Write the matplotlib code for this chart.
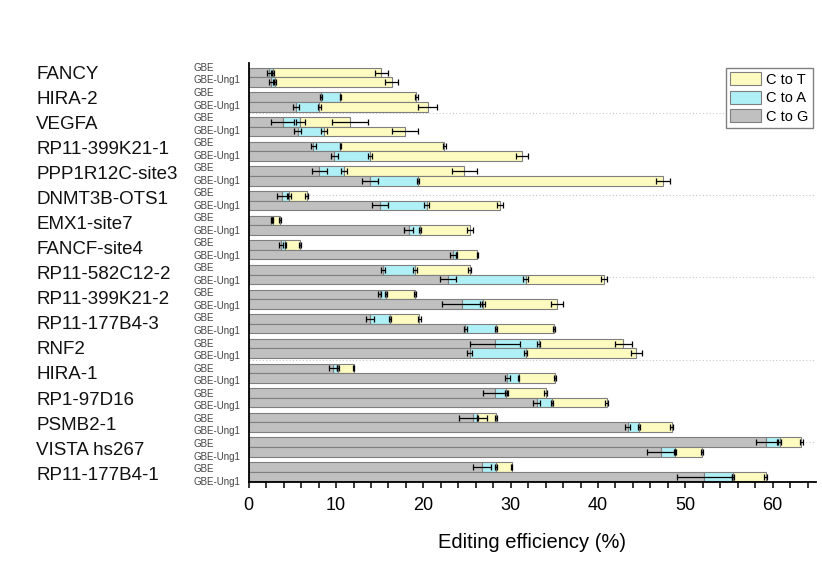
import numpy as np
import matplotlib
matplotlib.use("Agg")
import matplotlib.pyplot as plt
from matplotlib.transforms import blended_transform_factory

plt.rcParams['font.family'] = ['Liberation Sans', 'DejaVu Sans']

sites = ["FANCY", "HIRA-2", "VEGFA", "RP11-399K21-1", "PPP1R12C-site3",
         "DNMT3B-OTS1", "EMX1-site7", "FANCF-site4", "RP11-582C12-2",
         "RP11-399K21-2", "RP11-177B4-3", "RNF2", "HIRA-1", "RP1-97D16",
         "PSMB2-1", "VISTA hs267", "RP11-177B4-1"]
groups = ["GBE", "GBE-Ung1"]

# editing (%) per substitution type, GBE
gbe_ctog = [2.35, 8.25, 3.9, 7.4, 8.05, 3.8, 2.6, 3.7, 15.4, 15.0, 13.9, 28.2, 9.7, 28.2, 25.7, 59.3, 26.7]
gbe_ctoa = [0.45, 2.25, 2.0, 3.1, 2.85, 0.85, 0.15, 0.5, 3.65, 0.7, 2.3, 5.0, 0.5, 1.3, 0.5, 1.5, 1.6]
gbe_ctot = [12.4, 8.7, 5.7, 11.9, 13.8, 2.0, 0.85, 1.7, 6.25, 3.35, 3.35, 9.7, 1.8, 4.5, 2.1, 2.5, 1.8]
gbe_ctog_sd = [0.25, 0.1, 1.3, 0.3, 0.86, 0.57, 0.1, 0.25, 0.2, 0.15, 0.45, 2.85, 0.45, 1.4, 1.6, 1.25, 1.0]
gbe_ctoa_sd = [0.1, 0.1, 0.5, 0.1, 0.3, 0.15, 0.05, 0.1, 0.2, 0.15, 0.1, 0.2, 0.1, 0.2, 0.1, 0.2, 0.1]
gbe_ctot_sd = [0.75, 0.2, 2.1, 0.15, 1.4, 0.15, 0.1, 0.1, 0.2, 0.1, 0.2, 1.0, 0.1, 0.15, 0.15, 0.2, 0.1]

# GBE-Ung1
ung_ctog = [2.55, 5.4, 5.6, 9.8, 13.9, 15.0, 18.3, 23.4, 22.8, 24.4, 24.8, 25.3, 29.6, 33.0, 43.4, 47.2, 52.2]
ung_ctoa = [0.45, 2.7, 3.0, 4.1, 5.5, 5.4, 1.3, 0.4, 8.9, 2.4, 3.5, 6.4, 1.3, 1.7, 1.3, 1.6, 3.3]
ung_ctot = [13.4, 12.4, 9.3, 17.4, 28.0, 8.4, 5.7, 2.4, 9.0, 8.5, 6.7, 12.7, 4.2, 6.3, 3.75, 3.1, 3.7]
ung_ctog_sd = [0.25, 0.3, 0.4, 0.4, 0.95, 0.9, 0.57, 0.3, 0.9, 2.3, 0.15, 0.25, 0.3, 0.4, 0.3, 1.6, 3.1]
ung_ctoa_sd = [0.1, 0.15, 0.35, 0.2, 0.1, 0.3, 0.15, 0.1, 0.25, 0.3, 0.1, 0.2, 0.1, 0.1, 0.1, 0.1, 0.1]
ung_ctot_sd = [0.75, 1.1, 1.45, 0.7, 0.8, 0.35, 0.35, 0.1, 0.3, 0.65, 0.1, 0.65, 0.1, 0.2, 0.15, 0.1, 0.2]

col_g = '#c0c0c0'
col_a = '#aef0f5'
col_t = '#fdfbbf'
edge = '#7f7f7f'

fig = plt.figure(figsize=(8.22, 5.76), dpi=100)
ax = fig.add_axes([0.3026, 0.1637, 0.6904, 0.7269])

n = len(sites)
pos = np.arange(n)
h = 0.39
rows = [(pos - h / 2, gbe_ctog, gbe_ctoa, gbe_ctot, gbe_ctog_sd, gbe_ctoa_sd, gbe_ctot_sd),
        (pos + h / 2, ung_ctog, ung_ctoa, ung_ctot, ung_ctog_sd, ung_ctoa_sd, ung_ctot_sd)]

# faint dotted guide lines
for yy in np.linspace(1.45, 14.78, 5):
    ax.axhline(yy, color='#c8c8c8', lw=0.8, ls=(0, (1, 2)), zorder=0)

handles = {}
for yv, g, a, t, gs, as_, ts in rows:
    g = np.array(g); a = np.array(a); t = np.array(t)
    bg = ax.barh(yv, g, height=h, color=col_g, edgecolor=edge, lw=0.8, zorder=2)
    ba = ax.barh(yv, a, left=g, height=h, color=col_a, edgecolor=edge, lw=0.8, zorder=2)
    bt = ax.barh(yv, t, left=g + a, height=h, color=col_t, edgecolor=edge, lw=0.8, zorder=2)
    handles = {'C to T': bt, 'C to A': ba, 'C to G': bg}
    for end, sd in [(g, gs), (g + a, as_), (g + a + t, ts)]:
        ax.errorbar(end, yv, xerr=sd, fmt='none', ecolor='black', elinewidth=0.9,
                    capsize=2.5, capthick=0.9, zorder=3)

ax.set_xlim(0, 65)
ax.set_ylim(16.405, -0.58)
ax.set_yticks([])
ax.set_xticks(np.arange(0, 61, 10))
ax.set_xticks(np.arange(0, 65, 2), minor=True)
ax.tick_params(axis='x', which='both', direction='out', length=4.5, width=1.1, labelsize=13, pad=6.5)
ax.set_xlabel("Editing efficiency (%)", fontsize=14.5, labelpad=14)
for s in ['top', 'right']:
    ax.spines[s].set_visible(False)
for s in ['left', 'bottom']:
    ax.spines[s].set_linewidth(1.3)

trans = blended_transform_factory(fig.transFigure, ax.transData)
for i, name in enumerate(sites):
    yc = -0.13 + 1.017 * i
    ax.text(0.0438, yc, name, transform=trans, fontsize=13.5, va='center', ha='left', color='#111111')
    ax.text(0.2348, yc - 0.258, groups[0], transform=trans, fontsize=7, va='center', ha='left', color='#444444')
    ax.text(0.2348, yc + 0.258, groups[1], transform=trans, fontsize=7, va='center', ha='left', color='#444444')

leg = ax.legend([handles[k] for k in ['C to T', 'C to A', 'C to G']], ['C to T', 'C to A', 'C to G'],
                loc='upper right', bbox_to_anchor=(0.9887, 0.882), bbox_transform=fig.transFigure,
                borderaxespad=0, fontsize=10.5, handlelength=2.1, handleheight=1.0, labelspacing=0.27,
                handletextpad=0.35, borderpad=0.3, fancybox=False, framealpha=1)
leg.get_frame().set_edgecolor('#808080')
leg.get_frame().set_linewidth(1.0)

fig.savefig("out.png", dpi=100)
